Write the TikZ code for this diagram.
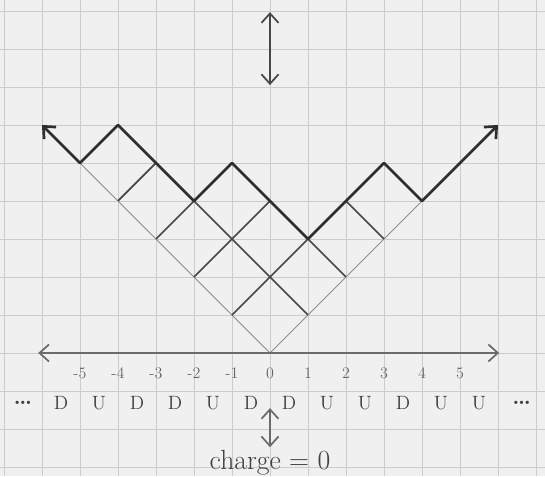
\documentclass[tikz,border=0pt]{standalone}
\usepackage{tikz}
\usetikzlibrary{arrows.meta,positioning,calc}

\begin{document}
\begin{tikzpicture}[
    font=\Large,
    paper/.style={fill=black!6},
    gridline/.style={draw=black!20, line width=0.6pt},
    vline/.style={draw=black!45, line width=0.7pt},
    cellline/.style={draw=black!72, line width=1.3pt},
    profile/.style={draw=black!82, line width=2pt, line join=round},
    axisline/.style={draw=black!58, line width=1.3pt},
    barb/.tip={Straight Barb[length=2.5mm, width=4.5mm]},
    ticklabel/.style={text=black!60, font=\large, inner sep=1pt},
    letter/.style={text=black!75, font=\Large, inner sep=1pt}
  ]
  % paper and grid
  \fill[paper] (-7.105,-3.237) rectangle (7.237,9.289);
  \useasboundingbox (-7.105,-3.237) rectangle (7.237,9.289);
  \foreach \x in {-7,...,7}
    \draw[gridline] (\x,-3.237) -- (\x,9.289);
  \foreach \y in {-3,...,9}
    \draw[gridline] (-7.105,\y) -- (7.237,\y);

  % corner of the diagram
  \coordinate (o) at (0,0);
  \coordinate (vl) at (-5,5);
  \coordinate (vr) at (4,4);
  \draw[vline] (vl) -- (o) -- (vr);

  % cells
  \draw[cellline] (-4,4) -- (-3,5);
  \draw[cellline] (-3,3) -- (-2,4);
  \draw[cellline] (-2,2) -- (0,4);
  \draw[cellline] (-1,1) -- (1,3);
  \draw[cellline] (-2,4) -- (1,1);
  \draw[cellline] (1,3) -- (2,2);
  \draw[cellline] (2,4) -- (3,3);

  % profile
  \coordinate (p0) at (-6,6);
  \coordinate (p8) at (6,6);
  \draw[profile, barb-barb] (p0) -- (vl) -- (-4,6) -- (-2,4) -- (-1,5)
    -- (1,3) -- (3,5) -- (vr) -- (p8);

  % axis
  \coordinate (axl) at (-6.1,0);
  \coordinate (axr) at (6.03,0);
  \draw[axisline, barb-barb] (axl) -- (axr);
  \foreach \i in {-5,...,5}
    \node[ticklabel] (t\i) at (\i,-0.53) {\i};

  % up/down sequence
  \foreach \c [count=\k] in {D,U,D,D,U,D,D,U,U,D,U,U}
    \node[letter] (s\k) at (\k-6.5,-1.32) {\c};
  \node[letter, font=\LARGE\bfseries] (dotsl) at (-6.5,-1.32) {\dots};
  \node[letter, font=\LARGE\bfseries] (dotsr) at (6.62,-1.32) {\dots};

  % charge
  \node[text=black!75, font=\huge, inner sep=0pt] (charge) at (0,-2.9) {charge = 0};
  \coordinate (ca) at (0,-1.45);
  \coordinate (cb) at (0,-2.48);
  \draw[axisline, barb-barb] (ca) -- (cb);

  % vertical shift
  \coordinate (ua) at (0,8.97);
  \coordinate (ub) at (0,7.05);
  \draw[axisline, draw=black!72, barb-barb] (ua) -- (ub);
\end{tikzpicture}
\end{document}
